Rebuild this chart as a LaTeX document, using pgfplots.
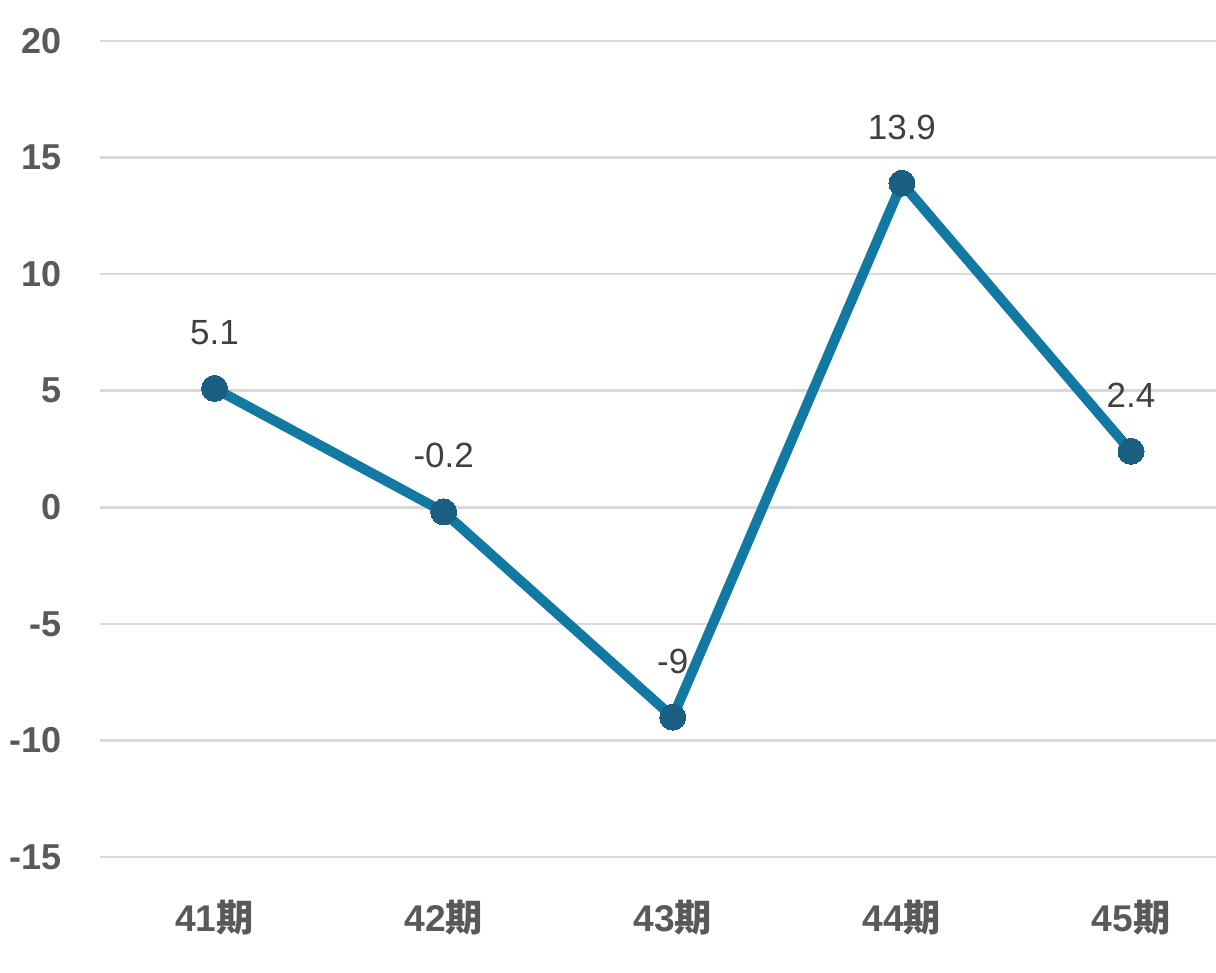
\documentclass[border=0pt]{standalone}
\usepackage{pgfplots}
\pgfplotsset{compat=1.18}
\usepackage{fontspec}
\setmainfont{Liberation Sans}
\newfontfamily\cjk{Noto Sans CJK JP}
\definecolor{lineblue}{HTML}{1279A3}
\definecolor{markblue}{HTML}{1A5E82}
\definecolor{ticktext}{HTML}{595959}
\definecolor{labtext}{HTML}{404040}
\definecolor{gridc}{HTML}{D9D9D9}
\begin{document}
\begin{tikzpicture}
\begin{axis}[
  scale only axis,
  width=558pt, height=408pt,
  xmin=-0.5, xmax=4.371,
  ymin=-15, ymax=20,
  ytick={-15,-10,-5,0,5,10,15,20},
  yticklabels={-15,-10,-5,0,5,10,15,20},
  xtick={0,1,2,3,4},
  xticklabels={{\bfseries 41{\cjk\bfseries 期}},{\bfseries 42{\cjk\bfseries 期}},{\bfseries 43{\cjk\bfseries 期}},{\bfseries 44{\cjk\bfseries 期}},{\bfseries 45{\cjk\bfseries 期}}},
  axis line style={draw=none},
  major tick length=0pt,
  ymajorgrids,
  grid style={gridc, line width=1.3pt},
  yticklabel style={font=\fontsize{18}{20}\selectfont\bfseries, text=ticktext, anchor=east, inner sep=0pt, xshift=-19pt},
  xticklabel style={font=\fontsize{18.6}{20}\selectfont, text=ticktext, anchor=center, inner sep=0pt, yshift=-30.5pt},
  clip=false,
  nodes near coords,
  point meta=explicit symbolic,
  nodes near coords style={font=\fontsize{17.5}{20}\selectfont, text=labtext, anchor=center, yshift=28pt},
]
\addplot[lineblue, line width=5pt, mark=*, mark size=6.5pt, mark options={fill=markblue, draw=markblue, line width=0pt}]
  coordinates {(0,5.1) [5.1] (1,-0.2) [-0.2] (2,-9) [-9] (3,13.9) [13.9] (4,2.4) [2.4]};
\end{axis}
\pgfresetboundingbox
\path (-50pt,-58pt) rectangle (558pt,428.5pt);
\end{tikzpicture}
\end{document}
